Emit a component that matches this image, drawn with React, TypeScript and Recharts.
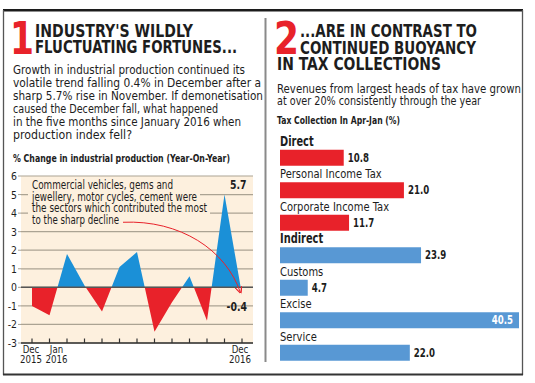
import React from 'react';
import {
  AreaChart, Area, XAxis, YAxis, CartesianGrid, ReferenceLine, ReferenceDot,
  BarChart, Bar, LabelList, Cell,
} from 'recharts';

// ---------- data ----------
const months = ['Dec 2015', 'Jan 2016', 'Feb 2016', 'Mar 2016', 'Apr 2016', 'May 2016', 'Jun 2016',
  'Jul 2016', 'Aug 2016', 'Sep 2016', 'Oct 2016', 'Nov 2016', 'Dec 2016'];
const iipChange = [-1.0, -1.5, 1.8, 0.1, -1.3, 1.1, 1.9, -2.4, -0.8, 0.6, -1.8, 5.0, -0.4];
const yTicks = [-3, -2, -1, 0, 1, 2, 3, 4, 5, 6];
const peakLabel = '5.7';
const lastLabel = '-0.4';

const taxHeads = ['Direct', 'Personal Income Tax', 'Corporate Income Tax', 'Indirect', 'Customs', 'Excise', 'Service'];
const taxGrowth = [10.8, 21.0, 11.7, 23.9, 4.7, 40.5, 22.0];
const taxGroups = ['Direct', 'Direct', 'Direct', 'Indirect', 'Indirect', 'Indirect', 'Indirect'];
const groupHeads = ['Direct', 'Indirect'];

const leftTitle = ["INDUSTRY'S WILDLY", 'FLUCTUATING FORTUNES...'];
const leftBody = [
  'Growth in industrial production continued its',
  'volatile trend falling 0.4% in December after a',
  'sharp 5.7% rise in November. If demonetisation',
  'caused the December fall, what happened',
  'in the five months since January 2016 when',
  'production index fell?',
];
const leftChartTitle = '% Change in industrial production (Year-On-Year)';
const annotation = [
  'Commercial vehicles, gems and',
  'jewellery, motor cycles, cement were',
  'the sectors which contributed the most',
  'to the sharp decline',
];
const rightTitle = ['...ARE IN CONTRAST TO', 'CONTINUED BUOYANCY', 'IN TAX COLLECTIONS'];
const rightBody = [
  'Revenues from largest heads of tax have grown',
  'at over 20% consistently through the year',
];
const rightChartTitle = 'Tax Collection In Apr-Jan (%)';

// ---------- style ----------
const RED = '#e8222a';
const AREA_BLUE = '#1b90d7';
const BAR_BLUE = '#5898d4';
const CREAM = '#fdf0de';
const GRID = '#aba393';
const INK = '#1d1d1d';
const FONT = "'DejaVu Sans', 'Liberation Sans', sans-serif";

const iipData = months.map((m, i) => ({ month: m, change: iipChange[i] }));
const maxV = Math.max(...iipChange);
const minV = Math.min(...iipChange);
const splitOffset = maxV / (maxV - minV);
const taxData = taxHeads.map((h, i) => ({ head: h, growth: taxGrowth[i], group: taxGroups[i] }));
const taxMax = Math.max(...taxGrowth);

const Fit = ({ x, y, w, size, bold, fill, children }: any) => (
  <text x={x} y={y} textLength={w} lengthAdjust="spacingAndGlyphs" fontSize={size}
    fontWeight={bold ? 700 : 400} fill={fill || INK} fontFamily={FONT}>{children}</text>
);

const Sq = ({ x, y, sx, size, bold, fill, anchor, children }: any) => (
  <text transform={`translate(${x},${y}) scale(${sx},1)`} fontSize={size}
    fontWeight={bold ? 700 : 400} fill={fill || INK} fontFamily={FONT}
    textAnchor={anchor || 'start'}>{children}</text>
);

const MonthTick = (p: any) => {
  const { x, y, payload } = p;
  const i = payload.index;
  const show = i === 0 || i === 1 || i === months.length - 1;
  const [mon, yr] = String(payload.value).split(' ');
  const dx = i === 1 ? 7 : i === 0 ? -1 : -2;
  return (
    <g>
      <line x1={x} x2={x} y1={y - 4.5} y2={y} stroke="#333" strokeWidth={1.2} />
      {show && <Sq x={x + dx} y={y + 10} sx={0.82} size={10.5} anchor="middle">{mon}</Sq>}
      {show && <Sq x={x + dx} y={y + 20} sx={0.82} size={10.5} anchor="middle">{yr}</Sq>}
    </g>
  );
};

const ValueTick = (p: any) => (
  <Sq x={p.x} y={p.y + 4} sx={0.85} size={11} anchor="end">{p.payload.value}</Sq>
);

const DecArrow = (p: any) => {
  const { cx, cy } = p;
  if (cx == null || cy == null) return null;
  const d = `M${cx - 119},${cy - 72.5} C${cx - 62},${cy - 75} ${cx - 16},${cy - 45} ${cx - 1.5},${cy - 2}`;
  return (
    <g>
      <defs>
        <marker id="arrowHead" viewBox="0 0 10 10" refX="9" refY="5" markerWidth="7" markerHeight="7" orient="auto">
          <path d="M0,0 L10,5 L0,10" fill="none" stroke={RED} strokeWidth={1.6} />
        </marker>
      </defs>
      <path d={d} fill="none" stroke={RED} strokeWidth={1} markerEnd="url(#arrowHead)" />
    </g>
  );
};

const PeakText = (p: any) => (
  <Sq x={p.cx + 22} y={p.cy - 6} sx={0.78} size={12} bold anchor="end">{peakLabel}</Sq>
);
const LastText = (p: any) => (
  <Sq x={p.cx + 5} y={p.cy + 16} sx={0.78} size={12} bold anchor="end">{lastLabel}</Sq>
);

const HeadLabel = (p: any) => {
  const { x, y, value } = p;
  const isGroup = groupHeads.includes(value);
  return isGroup
    ? <Sq x={x} y={y - 4} sx={0.73} size={13.5} bold>{value}</Sq>
    : <Sq x={x} y={y - 4} sx={0.83} size={12}>{value}</Sq>;
};

const ValueLabel = (p: any) => {
  const { x, y, width, height, value } = p;
  const txt = Number(value).toFixed(1);
  const inside = value >= taxMax * 0.9;
  return inside
    ? <Sq x={x + width - 6} y={y + height / 2 + 4} sx={0.75} size={11.5} bold fill="#ffffff" anchor="end">{txt}</Sq>
    : <Sq x={x + width + 4} y={y + height / 2 + 4} sx={0.75} size={11.5} bold>{txt}</Sq>;
};

export default function App() {
  return (
    <div style={{ position: 'absolute', left: 0, top: 0, width: 535, height: 383, background: '#fff', overflow: 'hidden' }}>
      <div style={{ position: 'absolute', left: 0, top: 0 }}>
        <AreaChart width={265} height={383} data={iipData} margin={{ top: 176, right: 12, bottom: 10, left: 0 }}>
          <defs>
            <linearGradient id="iipSplit" x1="0" y1="0" x2="0" y2="1">
              <stop offset={splitOffset} stopColor={AREA_BLUE} />
              <stop offset={splitOffset} stopColor={RED} />
            </linearGradient>
          </defs>
          <CartesianGrid vertical={false} fill={CREAM} fillOpacity={1} stroke={GRID} strokeWidth={1.2} />
          <XAxis dataKey="month" interval={0} tickSize={0} tickMargin={0} tickLine={false}
            axisLine={{ stroke: '#333', strokeWidth: 1.5 }} tick={(p: any) => <MonthTick {...p} />}
            padding={{ left: 11, right: 11 }} height={30} />
          <YAxis type="number" domain={[-3, 6]} ticks={yTicks} interval={0} width={21} axisLine={false}
            tickLine={{ stroke: GRID }} tickSize={3} tickMargin={1} tick={(p: any) => <ValueTick {...p} />} />
          <Area dataKey="change" type="linear" stroke="none" fill="url(#iipSplit)" fillOpacity={1}
            isAnimationActive={false} dot={false} activeDot={false} />
          <ReferenceLine y={0} stroke="#565656" strokeWidth={1.5} />
          <ReferenceDot x={months[12]} y={iipChange[12]} r={0} shape={(p: any) => <DecArrow {...p} />} />
          <ReferenceDot x={months[11]} y={iipChange[11]} r={0} shape={(p: any) => <PeakText {...p} />} />
          <ReferenceDot x={months[12]} y={iipChange[12]} r={0} shape={(p: any) => <LastText {...p} />} />
        </AreaChart>
      </div>
      <div style={{ position: 'absolute', left: 265, top: 0 }}>
        <BarChart layout="vertical" width={270} height={383} data={taxData} barSize={16}
          margin={{ top: 141.75, right: 16, bottom: 13.75, left: 15 }}>
          <XAxis type="number" domain={[0, 'dataMax']} hide />
          <YAxis type="category" dataKey="head" hide />
          <Bar dataKey="growth" isAnimationActive={false}>
            {taxData.map((d, i) => <Cell key={i} fill={d.group === 'Direct' ? RED : BAR_BLUE} />)}
            <LabelList dataKey="head" content={(p: any) => <HeadLabel {...p} />} />
            <LabelList dataKey="growth" content={(p: any) => <ValueLabel {...p} />} />
          </Bar>
        </BarChart>
      </div>
      <svg width={535} height={383} style={{ position: 'absolute', left: 0, top: 0, pointerEvents: 'none' }}>
        {/* frame */}
        <rect x={3} y={9} width={520} height={2.5} fill="#1c1c1c" />
        <line x1={3.5} y1={10} x2={3.5} y2={375} stroke="#555" strokeWidth={1.3} />
        <line x1={522.5} y1={10} x2={522.5} y2={375} stroke="#555" strokeWidth={1.3} />
        <line x1={3} y1={374.5} x2={523} y2={374.5} stroke="#333" strokeWidth={2} />
        <line x1={265.5} y1={18} x2={265.5} y2={362} stroke="#8a8a8a" strokeWidth={2} />

        {/* left header */}
        <Fit x={10} y={53.5} w={24} size={44} bold fill={RED}>1</Fit>
        <Fit x={35} y={36.5} w={158} size={17.5} bold>{leftTitle[0]}</Fit>
        <Fit x={35} y={52.5} w={202} size={17.5} bold>{leftTitle[1]}</Fit>
        <Fit x={13} y={74} w={232} size={12}>{leftBody[0]}</Fit>
        <Fit x={13} y={87} w={248} size={12}>{leftBody[1]}</Fit>
        <Fit x={13} y={100} w={250} size={12}>{leftBody[2]}</Fit>
        <Fit x={13} y={113} w={205} size={12}>{leftBody[3]}</Fit>
        <Fit x={13} y={126} w={228} size={12}>{leftBody[4]}</Fit>
        <Fit x={13} y={139} w={119} size={12}>{leftBody[5]}</Fit>
        <Fit x={13} y={162} w={217} size={10.5} bold>{leftChartTitle}</Fit>

        {/* annotation */}
        <rect x={28} y={180} width={148} height={11.5} fill={CREAM} />
        <rect x={28} y={191.5} width={172} height={11.5} fill={CREAM} />
        <rect x={28} y={203} width={182} height={11.5} fill={CREAM} />
        <rect x={28} y={214.5} width={94} height={11.5} fill={CREAM} />
        <Fit x={32} y={189} w={141} size={11.5}>{annotation[0]}</Fit>
        <Fit x={32} y={200.5} w={165} size={11.5}>{annotation[1]}</Fit>
        <Fit x={32} y={212} w={175} size={11.5}>{annotation[2]}</Fit>
        <Fit x={32} y={223.5} w={87} size={11.5}>{annotation[3]}</Fit>

        {/* right header */}
        <Fit x={274} y={53.5} w={25} size={44} bold fill={RED}>2</Fit>
        <Fit x={300} y={37} w={177} size={17.5} bold>{rightTitle[0]}</Fit>
        <Fit x={300} y={53.5} w={176} size={17.5} bold>{rightTitle[1]}</Fit>
        <Fit x={277} y={70} w={164} size={17.5} bold>{rightTitle[2]}</Fit>
        <Fit x={277} y={93} w={244} size={12}>{rightBody[0]}</Fit>
        <Fit x={277} y={105} w={204} size={12}>{rightBody[1]}</Fit>
        <Fit x={277} y={124} w={123} size={10.5} bold>{rightChartTitle}</Fit>
      </svg>
    </div>
  );
}
